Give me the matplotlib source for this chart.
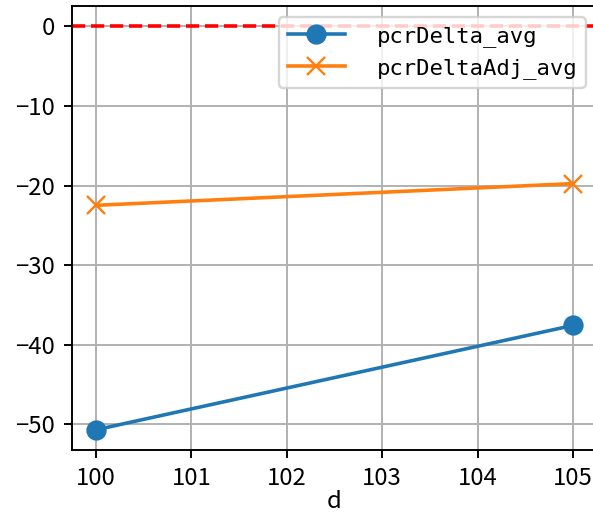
import matplotlib
matplotlib.use("Agg")
import matplotlib.pyplot as plt

plt.rcParams['font.family'] = ['Noto Sans CJK SC', 'DejaVu Sans']
plt.rcParams['axes.unicode_minus'] = True

d = [100, 105]
pcrDelta_avg = [-50.67, -37.56]
pcrDeltaAdj_avg = [-22.49, -19.76]
series_labels = ['pcrDelta_avg', 'pcrDeltaAdj_avg']
xlabel = 'd'

DPI = 172
fig = plt.figure(figsize=(593 / DPI, 513 / DPI), dpi=DPI)
ax = fig.add_axes([72 / 593, 1 - 450 / 513, (597 - 72) / 593, (450 - 6) / 513])

ax.plot(d, pcrDelta_avg, marker='o', markersize=7.5, label=series_labels[0])
ax.plot(d, pcrDeltaAdj_avg, marker='x', markersize=7.5, label=series_labels[1])
ax.axhline(0, color='red', linestyle='--')
ax.grid(True)
ax.set_xlabel(xlabel, labelpad=0)
ax.legend(loc='upper right', handlelength=2.6, handletextpad=1.4,
          prop={'family': ['DejaVu Sans Mono'], 'size': 9.3})

fig.savefig('out.png', dpi=DPI)
